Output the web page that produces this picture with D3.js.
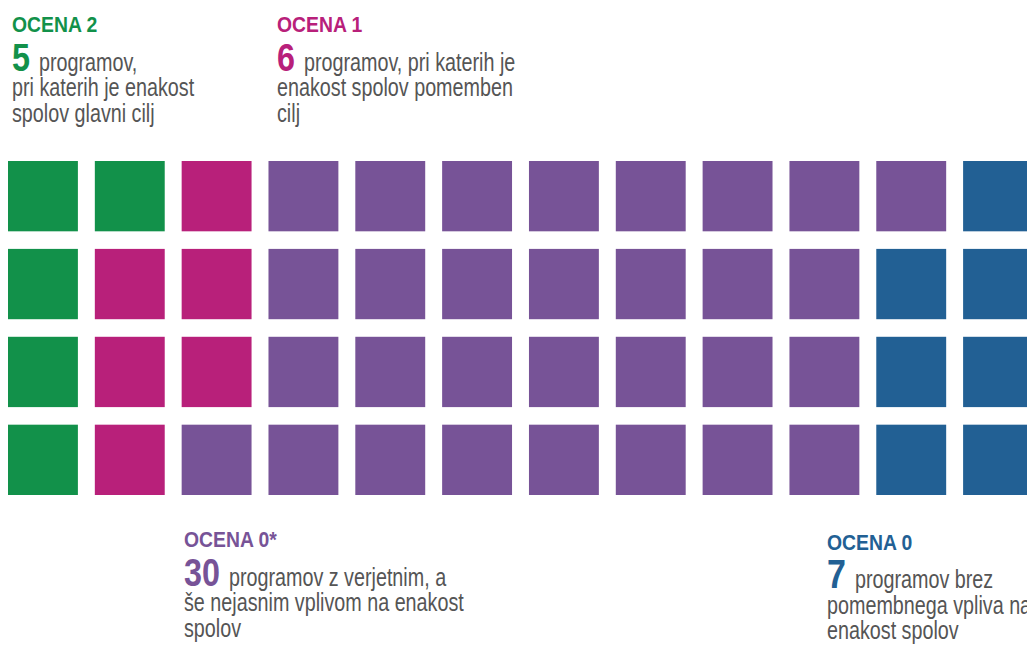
<!DOCTYPE html>
<html>
<head>
<meta charset="utf-8">
<script src="https://cdn.jsdelivr.net/npm/d3@7"></script>
<style>
  body { margin: 0; background: #fff; overflow: hidden; }
  text { font-family: "Liberation Sans Narrow", "Liberation Sans", Arial, sans-serif; }
</style>
</head>
<body>
<div id="chart"></div>
<script>
// categories in fill order (column by column, top to bottom)
var categories = ["OCENA 2", "OCENA 1", "OCENA 0*", "OCENA 0"]
var counts = [5, 6, 30, 7]
var colors = ["#12914a", "#b8207a", "#775397", "#226094"]
var descriptions = [
  ["programov,", "pri katerih je enakost", "spolov glavni cilj"],
  ["programov, pri katerih je", "enakost spolov pomemben", "cilj"],
  ["programov z verjetnim, a", "še nejasnim vplivom na enakost", "spolov"],
  ["programov brez", "pomembnega vpliva na", "enakost spolov"]
]
var n_rows = 4
var n_cols = 12

var width = 1027
var height = 646

var svg = d3.select("#chart").append("svg")
    .attr("width", width)
    .attr("height", height)

// one cell per programme
var cells = []
categories.forEach(function(c, i){
  for (var k = 0; k < counts[i]; k++) cells.push(i)
})

var x = d3.scaleBand()
    .domain(d3.range(n_cols))
    .range([8, 1033])
    .paddingInner(0.195)
    .paddingOuter(0)

var y = d3.scaleBand()
    .domain(d3.range(n_rows))
    .range([161, 495])
    .paddingInner(0.2)
    .paddingOuter(0)

svg.append("g")
    .attr("class", "waffle")
  .selectAll("rect")
  .data(cells)
  .enter().append("rect")
    .attr("x", function(d, i){ return x(Math.floor(i / n_rows)) })
    .attr("y", function(d, i){ return y(i % n_rows) })
    .attr("width", x.bandwidth())
    .attr("height", y.bandwidth())
    .attr("fill", function(d){ return colors[d] })

// label blocks: [x, title baseline]
var label_pos = [[12, 32], [277, 32], [184, 547], [827, 549.5]]

// no narrow font installed: squeeze the sans horizontally
function narrow(sel, tx, ty, sx){
  sel.attr("transform", "translate(" + tx + "," + ty + ") scale(" + sx + ",1)")
}

svg.append("g").attr("class", "labels")
  .selectAll("g")
  .data(categories)
  .enter().append("g")
    .attr("transform", function(d, i){
      return "translate(" + label_pos[i][0] + "," + label_pos[i][1] + ")"
    })
  .each(function(d, i){
    var g = d3.select(this)

    g.append("text")
        .attr("font-size", 22)
        .attr("font-weight", "bold")
        .attr("fill", colors[i])
        .text(d)
        .call(narrow, 0, 0, 0.88)

    var num = g.append("text")
        .attr("font-size", i == 3 ? 40 : 38)
        .attr("font-weight", "bold")
        .attr("fill", colors[i])
        .text(counts[i])
        .call(narrow, 0, 38.5, 0.85)
    var nw = num.node().getComputedTextLength() * 0.85

    descriptions[i].forEach(function(line, j){
      g.append("text")
          .attr("font-size", 25)
          .attr("fill", "#555")
          .text(line)
          .call(narrow, j == 0 ? nw + 9 : 0, 38.5 + j * 25.5, 0.79)
    })
  })
</script>
</body>
</html>
